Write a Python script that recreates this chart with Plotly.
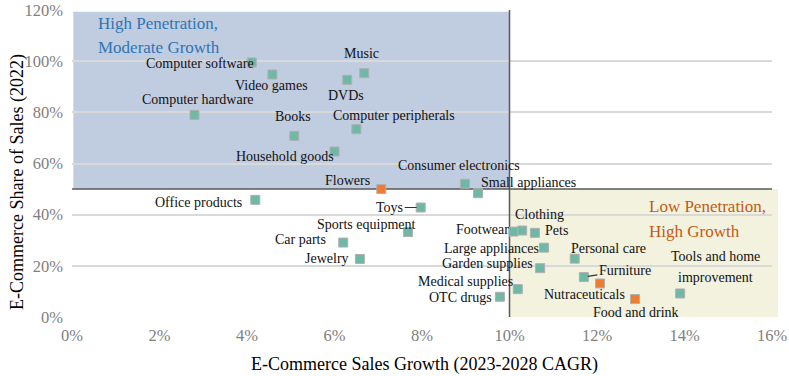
import plotly.graph_objects as go

# ---------------- data ----------------
categories = ["Computer software", "Video games", "Computer hardware", "Books",
              "Household goods", "Music", "DVDs", "Computer peripherals",
              "Consumer electronics", "Small appliances", "Flowers", "Office products",
              "Toys", "Sports equipment", "Car parts", "Jewelry", "Footwear",
              "Clothing", "Pets", "Large appliances", "Garden supplies",
              "Personal care", "Furniture", "Nutraceuticals", "Food and drink",
              "Tools and home improvement", "Medical supplies", "OTC drugs"]
growth_cagr = [4.11, 4.58, 2.80, 5.08, 6.00, 6.68, 6.29, 6.50, 8.98, 9.28, 7.07, 4.19,
               7.97, 7.68, 6.20, 6.58, 10.09, 10.29, 10.58, 10.79, 10.70, 11.49, 11.70,
               12.07, 12.87, 13.90, 10.19, 9.78]
share_2022 = [99.5, 94.8, 79.0, 70.8, 64.7, 95.3, 92.7, 73.4, 52.1, 48.4, 50.0, 45.8,
              42.8, 33.2, 29.1, 22.7, 33.4, 33.8, 32.9, 27.1, 19.1, 22.8, 15.6, 13.1,
              7.0, 9.2, 10.9, 7.9]
highlighted = ["Flowers", "Nutraceuticals", "Food and drink"]
x_ticks = [0, 2, 4, 6, 8, 10, 12, 14, 16]
y_ticks = [0, 20, 40, 60, 80, 100, 120]
x_title = "E-Commerce Sales Growth (2023-2028 CAGR)"
y_title = "E-Commerce Share of Sales (2022)"

# ---------------- styling / label placement (pixels) ----------------
label_text = {"Tools and home improvement": "Tools and home\nimprovement"}
label_offset = {  # (dx, dy) of label centre from marker, dy positive = down
    "Computer software": (-52, 1), "Video games": (-1, 11), "Computer hardware": (3, -15),
    "Books": (-1, -19), "Household goods": (-50, 5), "Music": (-3, -20), "DVDs": (-1, 16),
    "Computer peripherals": (38, -14), "Consumer electronics": (-6, -18),
    "Small appliances": (50, -11), "Flowers": (-34, -9), "Office products": (-57, 3),
    "Toys": (-31, 0), "Sports equipment": (-42, -8), "Car parts": (-43, -3),
    "Jewelry": (-33, 0), "Footwear": (-30.5, -2), "Clothing": (17, -16), "Pets": (22, -2),
    "Large appliances": (-53, 1), "Garden supplies": (-53, -5), "Personal care": (34, -10),
    "Furniture": (41, -7), "Nutraceuticals": (-16, 11), "Food and drink": (1, 13),
    "Tools and home improvement": (35.5, -26.7), "Medical supplies": (-52, -7.6),
    "OTC drugs": (-39, 1),
}
leader = {"Toys", "Furniture"}
LINE_GAP = 20.6

TEAL = "#6fb8a5"
ORANGE = "#ed7d31"
FONT = "Liberation Serif"

colors = [ORANGE if c in highlighted else TEAL for c in categories]

fig = go.Figure()
fig.add_trace(go.Scatter(
    x=growth_cagr, y=share_2022, mode="markers",
    marker=dict(symbol="square", size=9, color=colors,
                line=dict(color="#b0b0b0", width=1)),
    text=categories, hoverinfo="text", showlegend=False, cliponaxis=False,
))

annotations = []
for c, gx, sy in zip(categories, growth_cagr, share_2022):
    dx, dy = label_offset[c]
    txt = label_text.get(c, c)
    lines = txt.split("\n")
    n = len(lines)
    for i, ln in enumerate(lines):
        ddy = dy + (i - (n - 1) / 2) * LINE_GAP
        if c in leader:
            annotations.append(dict(
                x=gx, y=sy, xref="x", yref="y", text=ln, showarrow=True,
                ax=dx, ay=ddy, axref="pixel", ayref="pixel",
                arrowhead=0, arrowwidth=1.2, arrowcolor="#333333", standoff=4,
                font=dict(family=FONT, size=14, color="#111111")))
        else:
            annotations.append(dict(
                x=gx, y=sy, xref="x", yref="y", text=ln, showarrow=False,
                xshift=dx, yshift=-ddy, xanchor="center", yanchor="middle",
                font=dict(family=FONT, size=14, color="#111111")))

# quadrant titles
quad_titles = [
    ("High Penetration,", 0.55, 114.6, "#2e75b6"),
    ("Moderate Growth", 0.55, 105.3, "#2e75b6"),
    ("Low Penetration,", 13.14, 43.2, "#c55a11"),
    ("High Growth", 13.14, 33.4, "#c55a11"),
]
for t, qx, qy, col in quad_titles:
    annotations.append(dict(x=qx, y=qy, xref="x", yref="y", text=t, showarrow=False,
                            xanchor="left", yanchor="middle",
                            font=dict(family=FONT, size=17, color=col)))

# axis titles
annotations.append(dict(x=0.503, y=0, xref="paper", yref="paper", text=x_title,
                        showarrow=False, xanchor="center", yanchor="middle", yshift=-47,
                        font=dict(family=FONT, size=18, color="#000000")))
annotations.append(dict(x=0, y=0.44, xref="paper", yref="paper", text=y_title,
                        showarrow=False, xanchor="center", yanchor="middle", xshift=-54,
                        textangle=-90,
                        font=dict(family=FONT, size=18, color="#000000")))

shapes = [
    dict(type="rect", xref="x", yref="y", x0=0.03, x1=10, y0=50, y1=119.3,
         fillcolor="#c0cce0", line=dict(width=0), layer="below"),
    dict(type="rect", xref="x", yref="y", x0=10, x1=16, y0=0, y1=50,
         fillcolor="#f2f2df", line=dict(width=0), layer="below"),
    dict(type="rect", xref="paper", yref="y", x0=1.0, x1=1.0086, y0=0, y1=50,
         fillcolor="#f2f2df", line=dict(width=0), layer="below"),
    dict(type="line", xref="x", yref="y", x0=0, x1=16, y0=50, y1=50,
         line=dict(color="#595959", width=1.5), layer="between"),
    dict(type="line", xref="x", yref="y", x0=10, x1=10, y0=0, y1=120,
         line=dict(color="#595959", width=1.5), layer="between"),
]

fig.update_layout(
    width=789, height=376,
    margin=dict(l=72, r=17, t=10, b=59),
    paper_bgcolor="white", plot_bgcolor="white",
    font=dict(family=FONT, color="#000000"),
    shapes=shapes, annotations=annotations,
    xaxis=dict(range=[0, 16], tickvals=x_ticks, ticktext=[f"{v}%" for v in x_ticks],
               showgrid=False, zeroline=False, showline=False, ticks="",
               automargin=False, ticklabelstandoff=6,
               tickfont=dict(family=FONT, size=16.5, color="#808080")),
    yaxis=dict(range=[0, 120], tickvals=y_ticks, ticktext=[f"{v}%" for v in y_ticks],
               showgrid=True, gridcolor="#d9d9d9", gridwidth=1.5,
               zeroline=False, showline=False, ticks="",
               automargin=False, ticklabelstandoff=8,
               tickfont=dict(family=FONT, size=16.5, color="#808080")),
)

fig.write_html("out.html", config={"displayModeBar": False},
               post_script="document.body.style.margin='0px';document.body.style.overflow='hidden';")
